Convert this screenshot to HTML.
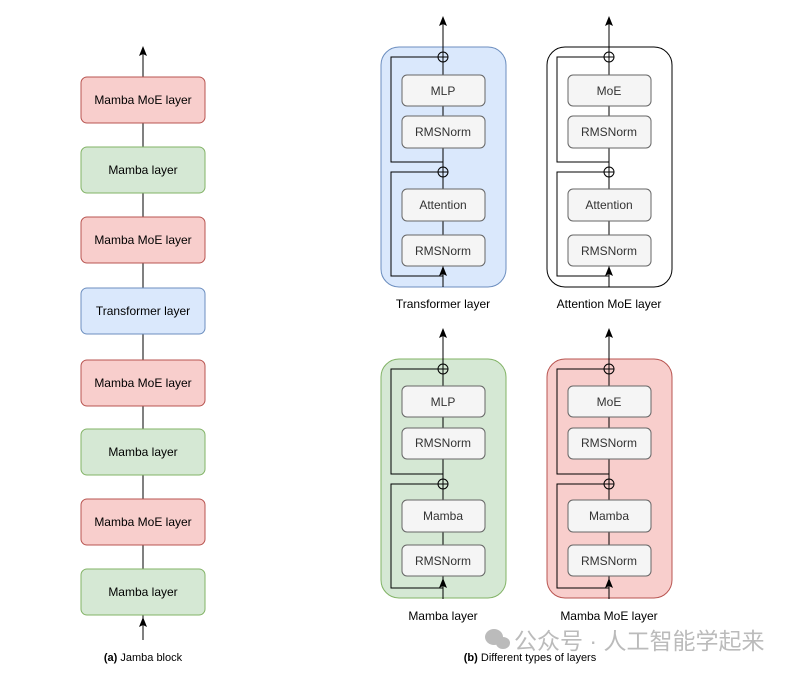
<!DOCTYPE html>
<html><head><meta charset="utf-8"><style>body{margin:0;background:#fff}svg{display:block}text{font-family:"Liberation Sans",sans-serif}</style></head><body>
<svg width="793" height="673" viewBox="0 0 793 673" xmlns="http://www.w3.org/2000/svg">
<g id="left">
<line x1="143" y1="640" x2="143" y2="53" stroke="#000" stroke-width="1"/>
<path d="M139,56 L143,46 L147,56 L143,54Z"/>
<path d="M139,627 L143,617 L147,627 L143,625Z"/>
<g font-size="12" text-anchor="middle">
<rect x="81" y="77" width="124" height="46" rx="6" fill="#f8cecc" stroke="#b85450"/><text x="143" y="104">Mamba MoE layer</text>
<rect x="81" y="147" width="124" height="46" rx="6" fill="#d5e8d4" stroke="#82b366"/><text x="143" y="174">Mamba layer</text>
<rect x="81" y="217" width="124" height="46" rx="6" fill="#f8cecc" stroke="#b85450"/><text x="143" y="244">Mamba MoE layer</text>
<rect x="81" y="288" width="124" height="46" rx="6" fill="#dae8fc" stroke="#6c8ebf"/><text x="143" y="315">Transformer layer</text>
<rect x="81" y="360" width="124" height="46" rx="6" fill="#f8cecc" stroke="#b85450"/><text x="143" y="387">Mamba MoE layer</text>
<rect x="81" y="429" width="124" height="46" rx="6" fill="#d5e8d4" stroke="#82b366"/><text x="143" y="456">Mamba layer</text>
<rect x="81" y="499" width="124" height="46" rx="6" fill="#f8cecc" stroke="#b85450"/><text x="143" y="526">Mamba MoE layer</text>
<rect x="81" y="569" width="124" height="46" rx="6" fill="#d5e8d4" stroke="#82b366"/><text x="143" y="596">Mamba layer</text>
<text x="143" y="661" font-size="11"><tspan font-weight="bold">(a)</tspan> Jamba block</text>
</g></g>
<g font-size="12" text-anchor="middle">
<g transform="translate(0,0)">
<rect x="381" y="47" width="125" height="240" rx="18" fill="#dae8fc" stroke="#6c8ebf"/>
<line x1="443" y1="287" x2="443" y2="24" stroke="#000"/><path d="M439,26 L443,16 L447,26 L443,24Z"/><path d="M439,276 L443,266 L447,276 L443,274Z"/>
<path d="M443,276 H391 V172 H438 M443,162 H391 V57 H438" fill="none" stroke="#000"/>
<circle cx="443" cy="57" r="5" fill="none" stroke="#000"/><path d="M438,57H448" stroke="#000"/>
<circle cx="443" cy="172" r="5" fill="none" stroke="#000"/><path d="M438,172H448" stroke="#000"/>
<g fill="#f5f5f5" stroke="#666"><rect x="402" y="75" width="83" height="31" rx="5"/><rect x="402" y="116" width="83" height="32" rx="5"/><rect x="402" y="189" width="83" height="32" rx="5"/><rect x="402" y="235" width="83" height="31" rx="5"/></g>
<g fill="#333"><text x="443" y="95">MLP</text><text x="443" y="136">RMSNorm</text><text x="443" y="209">Attention</text><text x="443" y="255">RMSNorm</text></g>
<text x="443" y="308">Transformer layer</text>
</g>
<g transform="translate(166,0)">
<rect x="381" y="47" width="125" height="240" rx="18" fill="#fff" stroke="#000"/>
<line x1="443" y1="287" x2="443" y2="24" stroke="#000"/><path d="M439,26 L443,16 L447,26 L443,24Z"/><path d="M439,276 L443,266 L447,276 L443,274Z"/>
<path d="M443,276 H391 V172 H438 M443,162 H391 V57 H438" fill="none" stroke="#000"/>
<circle cx="443" cy="57" r="5" fill="none" stroke="#000"/><path d="M438,57H448" stroke="#000"/>
<circle cx="443" cy="172" r="5" fill="none" stroke="#000"/><path d="M438,172H448" stroke="#000"/>
<g fill="#f5f5f5" stroke="#666"><rect x="402" y="75" width="83" height="31" rx="5"/><rect x="402" y="116" width="83" height="32" rx="5"/><rect x="402" y="189" width="83" height="32" rx="5"/><rect x="402" y="235" width="83" height="31" rx="5"/></g>
<g fill="#333"><text x="443" y="95">MoE</text><text x="443" y="136">RMSNorm</text><text x="443" y="209">Attention</text><text x="443" y="255">RMSNorm</text></g>
<text x="443" y="308">Attention MoE layer</text>
</g>
<g transform="translate(0,312)">
<rect x="381" y="47" width="125" height="239" rx="18" fill="#d5e8d4" stroke="#82b366"/>
<line x1="443" y1="287" x2="443" y2="24" stroke="#000"/><path d="M439,26 L443,16 L447,26 L443,24Z"/><path d="M439,276 L443,266 L447,276 L443,274Z"/>
<path d="M443,276 H391 V172 H438 M443,162 H391 V57 H438" fill="none" stroke="#000"/>
<circle cx="443" cy="57" r="5" fill="none" stroke="#000"/><path d="M438,57H448" stroke="#000"/>
<circle cx="443" cy="172" r="5" fill="none" stroke="#000"/><path d="M438,172H448" stroke="#000"/>
<g fill="#f5f5f5" stroke="#666"><rect x="402" y="74" width="83" height="31" rx="5"/><rect x="402" y="116" width="83" height="31" rx="5"/><rect x="402" y="188" width="83" height="32" rx="5"/><rect x="402" y="233" width="83" height="31" rx="5"/></g>
<g fill="#333"><text x="443" y="94">MLP</text><text x="443" y="135">RMSNorm</text><text x="443" y="208">Mamba</text><text x="443" y="253">RMSNorm</text></g>
<text x="443" y="308">Mamba layer</text>
</g>
<g transform="translate(166,312)">
<rect x="381" y="47" width="125" height="239" rx="18" fill="#f8cecc" stroke="#b85450"/>
<line x1="443" y1="287" x2="443" y2="24" stroke="#000"/><path d="M439,26 L443,16 L447,26 L443,24Z"/><path d="M439,276 L443,266 L447,276 L443,274Z"/>
<path d="M443,276 H391 V172 H438 M443,162 H391 V57 H438" fill="none" stroke="#000"/>
<circle cx="443" cy="57" r="5" fill="none" stroke="#000"/><path d="M438,57H448" stroke="#000"/>
<circle cx="443" cy="172" r="5" fill="none" stroke="#000"/><path d="M438,172H448" stroke="#000"/>
<g fill="#f5f5f5" stroke="#666"><rect x="402" y="74" width="83" height="31" rx="5"/><rect x="402" y="116" width="83" height="31" rx="5"/><rect x="402" y="188" width="83" height="32" rx="5"/><rect x="402" y="233" width="83" height="31" rx="5"/></g>
<g fill="#333"><text x="443" y="94">MoE</text><text x="443" y="135">RMSNorm</text><text x="443" y="208">Mamba</text><text x="443" y="253">RMSNorm</text></g>
<text x="443" y="308">Mamba MoE layer</text>
</g>
<text x="530" y="661" font-size="11"><tspan font-weight="bold">(b)</tspan> Different types of layers</text>
</g>
<g fill="#bbb"><ellipse cx="494" cy="637" rx="9" ry="8"/><ellipse cx="503" cy="643" rx="7" ry="6"/></g>
<text x="514" y="649" font-size="23" fill="#bbb" style='font-family:"Liberation Sans","Noto Sans CJK SC",sans-serif'>公众号 · 人工智能学起来</text>
</svg>
</body></html>
